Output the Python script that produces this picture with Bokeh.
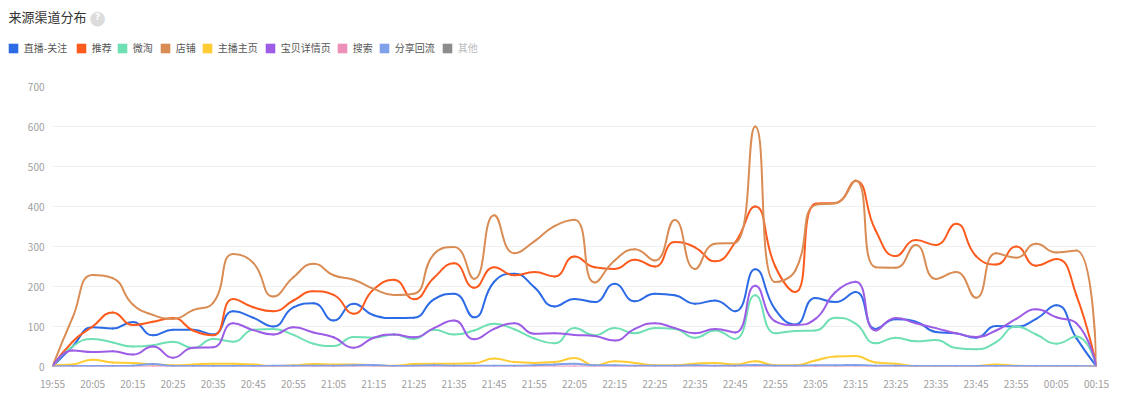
import math
from bokeh.plotting import figure
from bokeh.layouts import column
from bokeh.models import FixedTicker, Legend, LegendItem, Label, Range1d
from bokeh.embed import file_html
from bokeh.resources import INLINE

# ---------------- data ----------------
times = ["19:55", "20:00", "20:05", "20:10", "20:15", "20:20", "20:25", "20:30", "20:35", "20:40",
         "20:45", "20:50", "20:55", "21:00", "21:05", "21:10", "21:15", "21:20", "21:25", "21:30",
         "21:35", "21:40", "21:45", "21:50", "21:55", "22:00", "22:05", "22:10", "22:15", "22:20",
         "22:25", "22:30", "22:35", "22:40", "22:45", "22:50", "22:55", "23:00", "23:05", "23:10",
         "23:15", "23:20", "23:25", "23:30", "23:35", "23:40", "23:45", "23:50", "23:55", "00:00",
         "00:05", "00:10", "00:15"]

chart_title = "来源渠道分布"
series_names = ["直播-关注", "推荐", "微淘", "店铺", "主播主页", "宝贝详情页", "搜索", "分享回流", "其他"]
series_colors = ["#2d6be6", "#fd5a1e", "#6fe0b4", "#d98c54", "#ffcc33", "#9d5ce6", "#ec8fb9", "#7fa1ea", "#8c8c8c"]

live_follow = [0, 50, 98, 95, 111, 78, 92, 92, 80, 138, 122, 100, 148, 158, 115, 157, 128, 121, 122, 168,
               182, 123, 212, 232, 198, 150, 169, 161, 207, 163, 182, 178, 157, 165, 138, 243, 142, 105, 171, 161,
               186, 94, 118, 112, 86, 83, 72, 101, 100, 119, 153, 71, 0]
recommend = [0, 62, 100, 135, 104, 112, 121, 90, 78, 169, 148, 138, 165, 188, 179, 132, 193, 217, 168, 222,
             258, 197, 248, 228, 236, 225, 275, 248, 244, 267, 250, 311, 298, 263, 310, 400, 250, 186, 407, 409,
             464, 340, 276, 316, 304, 357, 276, 255, 300, 252, 269, 178, 0]
weitao = [0, 50, 69, 60, 50, 53, 62, 46, 69, 62, 92, 94, 79, 57, 51, 74, 72, 80, 69, 92,
          80, 90, 107, 93, 70, 58, 96, 78, 96, 83, 96, 94, 72, 90, 69, 178, 83, 89, 90, 122,
          107, 58, 72, 63, 66, 46, 43, 61, 100, 80, 57, 75, 0]
shop = [0, 122, 229, 221, 155, 129, 119, 141, 159, 281, 259, 175, 223, 257, 228, 217, 194, 179, 182, 281,
        299, 219, 378, 283, 313, 351, 367, 210, 265, 293, 265, 366, 244, 307, 309, 600, 211, 240, 404, 408,
        465, 248, 247, 304, 219, 236, 172, 283, 272, 307, 285, 290, 0]
anchor_home = [3, 5, 17, 10, 9, 5, 3, 5, 7, 7, 5, 1, 3, 6, 5, 5, 3, 2, 6, 7,
               7, 8, 20, 11, 9, 11, 21, 3, 13, 9, 3, 3, 7, 9, 5, 13, 3, 3, 15, 25,
               26, 10, 7, 1, 0, 0, 1, 5, 2, 1, 1, 0, 0]
item_detail = [0, 40, 36, 38, 30, 50, 22, 47, 48, 108, 91, 80, 98, 85, 73, 47, 72, 80, 73, 96,
               115, 68, 94, 108, 82, 83, 79, 76, 65, 94, 108, 96, 83, 94, 85, 202, 113, 104, 119, 186,
               212, 90, 121, 108, 96, 83, 74, 90, 119, 143, 123, 108, 0]
search = [0, 0, 0, 0, 0, 0, 0, 0, 0, 0, 0, 0, 0, 0, 0, 0, 0, 0, 0, 0,
          0, 0, 0, 0, 0, 0, 0, 0, 0, 0, 0, 0, 0, 0, 0, 0, 0, 0, 0, 0,
          0, 0, 0, 0, 0, 0, 0, 0, 0, 0, 0, 0, 0]
share_back = [0, 1, 1, 1, 2, 6, 1, 1, 1, 1, 1, 2, 2, 2, 2, 3, 4, 1, 2, 3,
              2, 2, 2, 2, 3, 5, 7, 3, 3, 2, 2, 2, 3, 2, 2, 4, 2, 2, 3, 3,
              4, 2, 2, 1, 1, 1, 1, 1, 1, 1, 1, 1, 0]
other = [0, 0, 0, 0, 0, 0, 0, 0, 0, 0, 0, 0, 0, 0, 0, 0, 0, 0, 0, 0,
         0, 0, 0, 0, 0, 0, 0, 0, 0, 0, 0, 0, 0, 0, 0, 0, 0, 0, 0, 0,
         0, 0, 0, 0, 0, 0, 0, 0, 0, 0, 0, 0, 0]
series_visible = [True, True, True, True, True, True, True, True, False]

y_ticks = [0, 100, 200, 300, 400, 500, 600, 700]
x_tick_step = 10  # minutes between x tick labels

all_series = [live_follow, recommend, weitao, shop, anchor_home, item_detail, search, share_back, other]
for s in all_series:
    assert len(s) == len(times)

# ---------------- layout constants ----------------
legend_box_left = [8, 76, 117, 160, 202, 265, 337, 379, 442]   # px, left edge of each checkbox

W = 1120
HEAD_H = 70
H = 331
B_LEFT, B_RIGHT, B_TOP, B_BOTTOM = 52, 24, 16, 35
FONT = "Noto Sans CJK SC"

# ---------------- helpers ----------------
def to_minutes(t, start):
    h, m = (int(v) for v in t.split(":"))
    v = h * 60 + m
    if v < start:
        v += 24 * 60
    return v

h0, m0 = (int(v) for v in times[0].split(":"))
start_min = h0 * 60 + m0
xs = [to_minutes(t, start_min) - start_min for t in times]
x_end = xs[-1]

FW = W - B_LEFT - B_RIGHT
FH = H - B_TOP - B_BOTTOM
KX = FW / x_end
KY = FH / y_ticks[-1]


def smooth_beziers(xv, yv, smooth=0.5):
    """ECharts-style smooth line: cubic bezier control points computed in pixel space."""
    px = [x * KX for x in xv]
    py = [y * KY for y in yv]
    n = len(px)
    out = {k: [] for k in ("x0", "y0", "x1", "y1", "cx0", "cy0", "cx1", "cy1")}
    cpx0, cpy0 = px[0], py[0]
    for i in range(1, n):
        x, y = px[i], py[i]
        prevX, prevY = px[i - 1], py[i - 1]
        if i == n - 1:
            cpx1, cpy1 = x, y
            ncx, ncy = x, y
        else:
            nextX, nextY = px[i + 1], py[i + 1]
            vx, vy = nextX - prevX, nextY - prevY
            lp = math.hypot(x - prevX, y - prevY)
            ln = math.hypot(nextX - x, nextY - y)
            if lp == 0 or ln == 0:
                cpx1, cpy1, ncx, ncy = x, y, x, y
            else:
                ratio = ln / (ln + lp)
                ncx = x + vx * smooth * ratio
                ncy = y + vy * smooth * ratio
                ncx = max(min(ncx, max(nextX, x)), min(nextX, x))
                ncy = max(min(ncy, max(nextY, y)), min(nextY, y))
                vx, vy = ncx - x, ncy - y
                cpx1 = x - vx * lp / ln
                cpy1 = y - vy * lp / ln
                cpx1 = max(min(cpx1, max(prevX, x)), min(prevX, x))
                cpy1 = max(min(cpy1, max(prevY, y)), min(prevY, y))
                vx, vy = x - cpx1, y - cpy1
                ncx = x + vx * ln / lp
                ncy = y + vy * ln / lp
        out["x0"].append(prevX / KX); out["y0"].append(prevY / KY)
        out["x1"].append(x / KX); out["y1"].append(y / KY)
        out["cx0"].append(cpx0 / KX); out["cy0"].append(cpy0 / KY)
        out["cx1"].append(cpx1 / KX); out["cy1"].append(cpy1 / KY)
        cpx0, cpy0 = ncx, ncy
    return out

# ---------------- header (title + checkbox legend) ----------------
head = figure(width=W, height=HEAD_H, output_backend="svg", toolbar_location=None,
              x_range=Range1d(0, W), y_range=Range1d(0, HEAD_H),
              x_axis_type=None, y_axis_type=None,
              min_border=0, min_border_left=0, min_border_right=0,
              min_border_top=0, min_border_bottom=0)
head.frame_align = False
head.outline_line_color = None
head.xgrid.visible = False
head.ygrid.visible = False
head.background_fill_color = "white"
head.border_fill_color = "white"

title_y = HEAD_H - 16
head.add_layout(Label(x=8, y=title_y, x_units="screen", y_units="screen", text=chart_title,
                      text_font=FONT, text_font_size="13px", text_color="#333333",
                      text_baseline="middle", text_align="left"))
head.add_layout(Label(x=97, y=title_y, x_units="screen", y_units="screen", text="●",
                      text_font="DejaVu Sans", text_font_size="19px", text_color="#dcdcdc",
                      text_baseline="middle", text_align="center"))
head.add_layout(Label(x=97, y=title_y, x_units="screen", y_units="screen", text="?",
                      text_font="DejaVu Sans", text_font_size="9px", text_font_style="bold",
                      text_color="white", text_baseline="middle", text_align="center"))

GLYPH = 12
SWATCH_INSET = 0.1 * GLYPH       # Bokeh draws area swatches inset by 10%
LABEL_H = 14.5
legend_y = HEAD_H - 47 - 8          # bottom of the legend row
check_xs, check_ys = [], []
for name, color, vals, vis, bx in zip(series_names, series_colors, all_series,
                                      series_visible, legend_box_left):
    # zero-size proxy that lends its colour to the legend swatch
    box = head.rect(x=xs[:1], y=vals[:1], width=0, height=0, fill_color=color, line_color=None)
    lg = Legend(items=[LegendItem(label=name, renderers=[box])],
                orientation="horizontal", location=(bx - SWATCH_INSET, legend_y),
                glyph_width=GLYPH, glyph_height=GLYPH, label_standoff=5, spacing=0,
                padding=0, margin=0, border_line_color=None, background_fill_alpha=0,
                label_text_font=FONT, label_text_font_size="10px",
                label_text_color="#555555" if vis else "#bbbbbb", label_height=12)
    head.add_layout(lg)
    cx = bx - SWATCH_INSET + GLYPH / 2
    cy = legend_y + LABEL_H - GLYPH / 2
    check_xs.append([cx - 2.6, cx - 0.8, cx + 2.6])
    check_ys.append([cy + 0.1, cy - 1.7, cy + 1.9])

head.multi_line(xs=check_xs, ys=check_ys, line_color="white", line_width=1.3,
                line_join="round", line_cap="round", level="overlay")

# ---------------- main chart ----------------
p = figure(width=W, height=H, output_backend="svg", toolbar_location=None,
           x_range=Range1d(0, x_end), y_range=Range1d(0, y_ticks[-1]),
           min_border_left=B_LEFT, min_border_right=B_RIGHT,
           min_border_top=B_TOP, min_border_bottom=B_BOTTOM)
p.frame_align = False
p.outline_line_color = None
p.background_fill_color = "white"
p.border_fill_color = "white"

p.xgrid.grid_line_color = None
p.ygrid.grid_line_color = "#f0f0f0"
p.ygrid.ticker = FixedTicker(ticks=y_ticks)

p.yaxis.ticker = FixedTicker(ticks=y_ticks)
p.xaxis.ticker = FixedTicker(ticks=[x for x in xs if x % x_tick_step == 0])
p.xaxis.major_label_overrides = {x: t for x, t in zip(xs, times) if x % x_tick_step == 0}
for ax in (p.xaxis, p.yaxis):
    ax.axis_line_color = None
    ax.major_tick_line_color = None
    ax.minor_tick_line_color = None
    ax.major_tick_out = 0
    ax.major_tick_in = 0
    ax.minor_tick_out = 0
    ax.minor_tick_in = 0
    ax.major_label_text_font = FONT
    ax.major_label_text_font_size = "10px"
    ax.major_label_text_color = "#a0a0a0"
p.yaxis.major_label_standoff = 8
p.xaxis.major_label_standoff = 9

for name, vals, color, vis in zip(series_names, all_series, series_colors, series_visible):
    seg = smooth_beziers(xs, vals)
    r = p.bezier(x0=seg["x0"], y0=seg["y0"], x1=seg["x1"], y1=seg["y1"],
                 cx0=seg["cx0"], cy0=seg["cy0"], cx1=seg["cx1"], cy1=seg["cy1"],
                 line_color=color, line_width=2, line_cap="round")
    r.visible = vis

layout = column(head, p, spacing=0)
open("out.html", "w").write(file_html(layout, INLINE))
